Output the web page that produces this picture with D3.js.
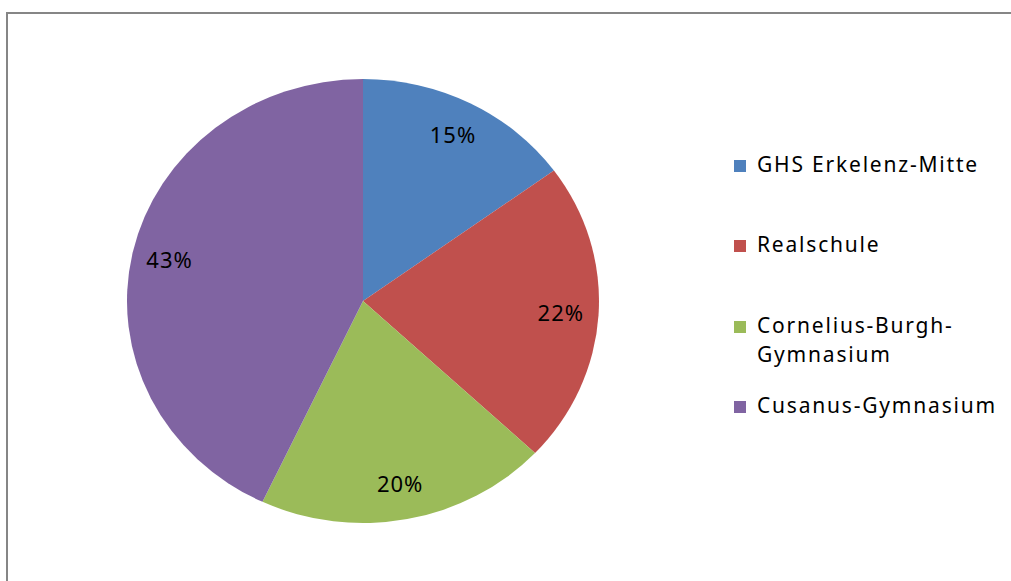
<!DOCTYPE html>
<html>
<head>
<meta charset="utf-8">
<script src="https://cdn.jsdelivr.net/npm/d3@7"></script>
<style>
  html, body { margin: 0; padding: 0; background: #fff; overflow: hidden; }
  svg { display: block; }
  text { font-family: "Noto Sans", "Liberation Sans", sans-serif; fill: #000; }
</style>
</head>
<body>
<svg id="chart" width="1011" height="581"></svg>
<script>
const categories = ["GHS Erkelenz-Mitte", "Realschule", "Cornelius-Burgh-Gymnasium", "Cusanus-Gymnasium"];
const legendLines = [["GHS Erkelenz-Mitte"], ["Realschule"], ["Cornelius-Burgh-", "Gymnasium"], ["Cusanus-Gymnasium"]];
const values = [15, 22, 20, 43];
const colors = ["#4F81BD", "#C0504D", "#9BBB59", "#8064A2"];

const svg = d3.select("#chart");
const W = 1011, H = 581;

// chart frame (only top and left edges are visible)
svg.append("path")
  .attr("d", `M7,${H + 5} V13 H${W + 5}`)
  .attr("fill", "none")
  .attr("stroke", "#868686").attr("stroke-width", 2);

const cx = 363, cy = 301, rx = 236, ry = 222;
const total = d3.sum(values);
const pie = d3.pie().sort(null).value(d => d)(values);
const arc = d3.arc().innerRadius(0).outerRadius(rx);
const labelArc = d3.arc().innerRadius(rx * 0.84).outerRadius(rx * 0.84);

const g = svg.append("g").attr("transform", `translate(${cx},${cy}) scale(1,${ry / rx})`);
g.selectAll("path").data(pie).enter().append("path")
  .attr("d", arc)
  .attr("fill", (d, i) => colors[i]);

const fmt = d3.format(".0%");
svg.append("g").selectAll("text").data(pie).enter().append("text")
  .attr("x", d => cx + labelArc.centroid(d)[0])
  .attr("y", d => cy + labelArc.centroid(d)[1] * ry / rx)
  .attr("dy", "0.36em")
  .attr("text-anchor", "middle")
  .attr("font-size", 22)
  .attr("letter-spacing", 1)
  .text(d => fmt(d.data / total));

// legend
const legendBase = [172, 252, 333, 413];
const lg = svg.append("g");
legendLines.forEach((lines, i) => {
  lg.append("rect")
    .attr("x", 734).attr("y", legendBase[i] - 12)
    .attr("width", 12).attr("height", 12)
    .attr("fill", colors[i]);
  lines.forEach((t, j) => {
    lg.append("text")
      .attr("x", 757).attr("y", legendBase[i] + j * 29)
      .attr("font-size", 21)
      .attr("letter-spacing", 1.8)
      .text(t);
  });
});
</script>
</body>
</html>
